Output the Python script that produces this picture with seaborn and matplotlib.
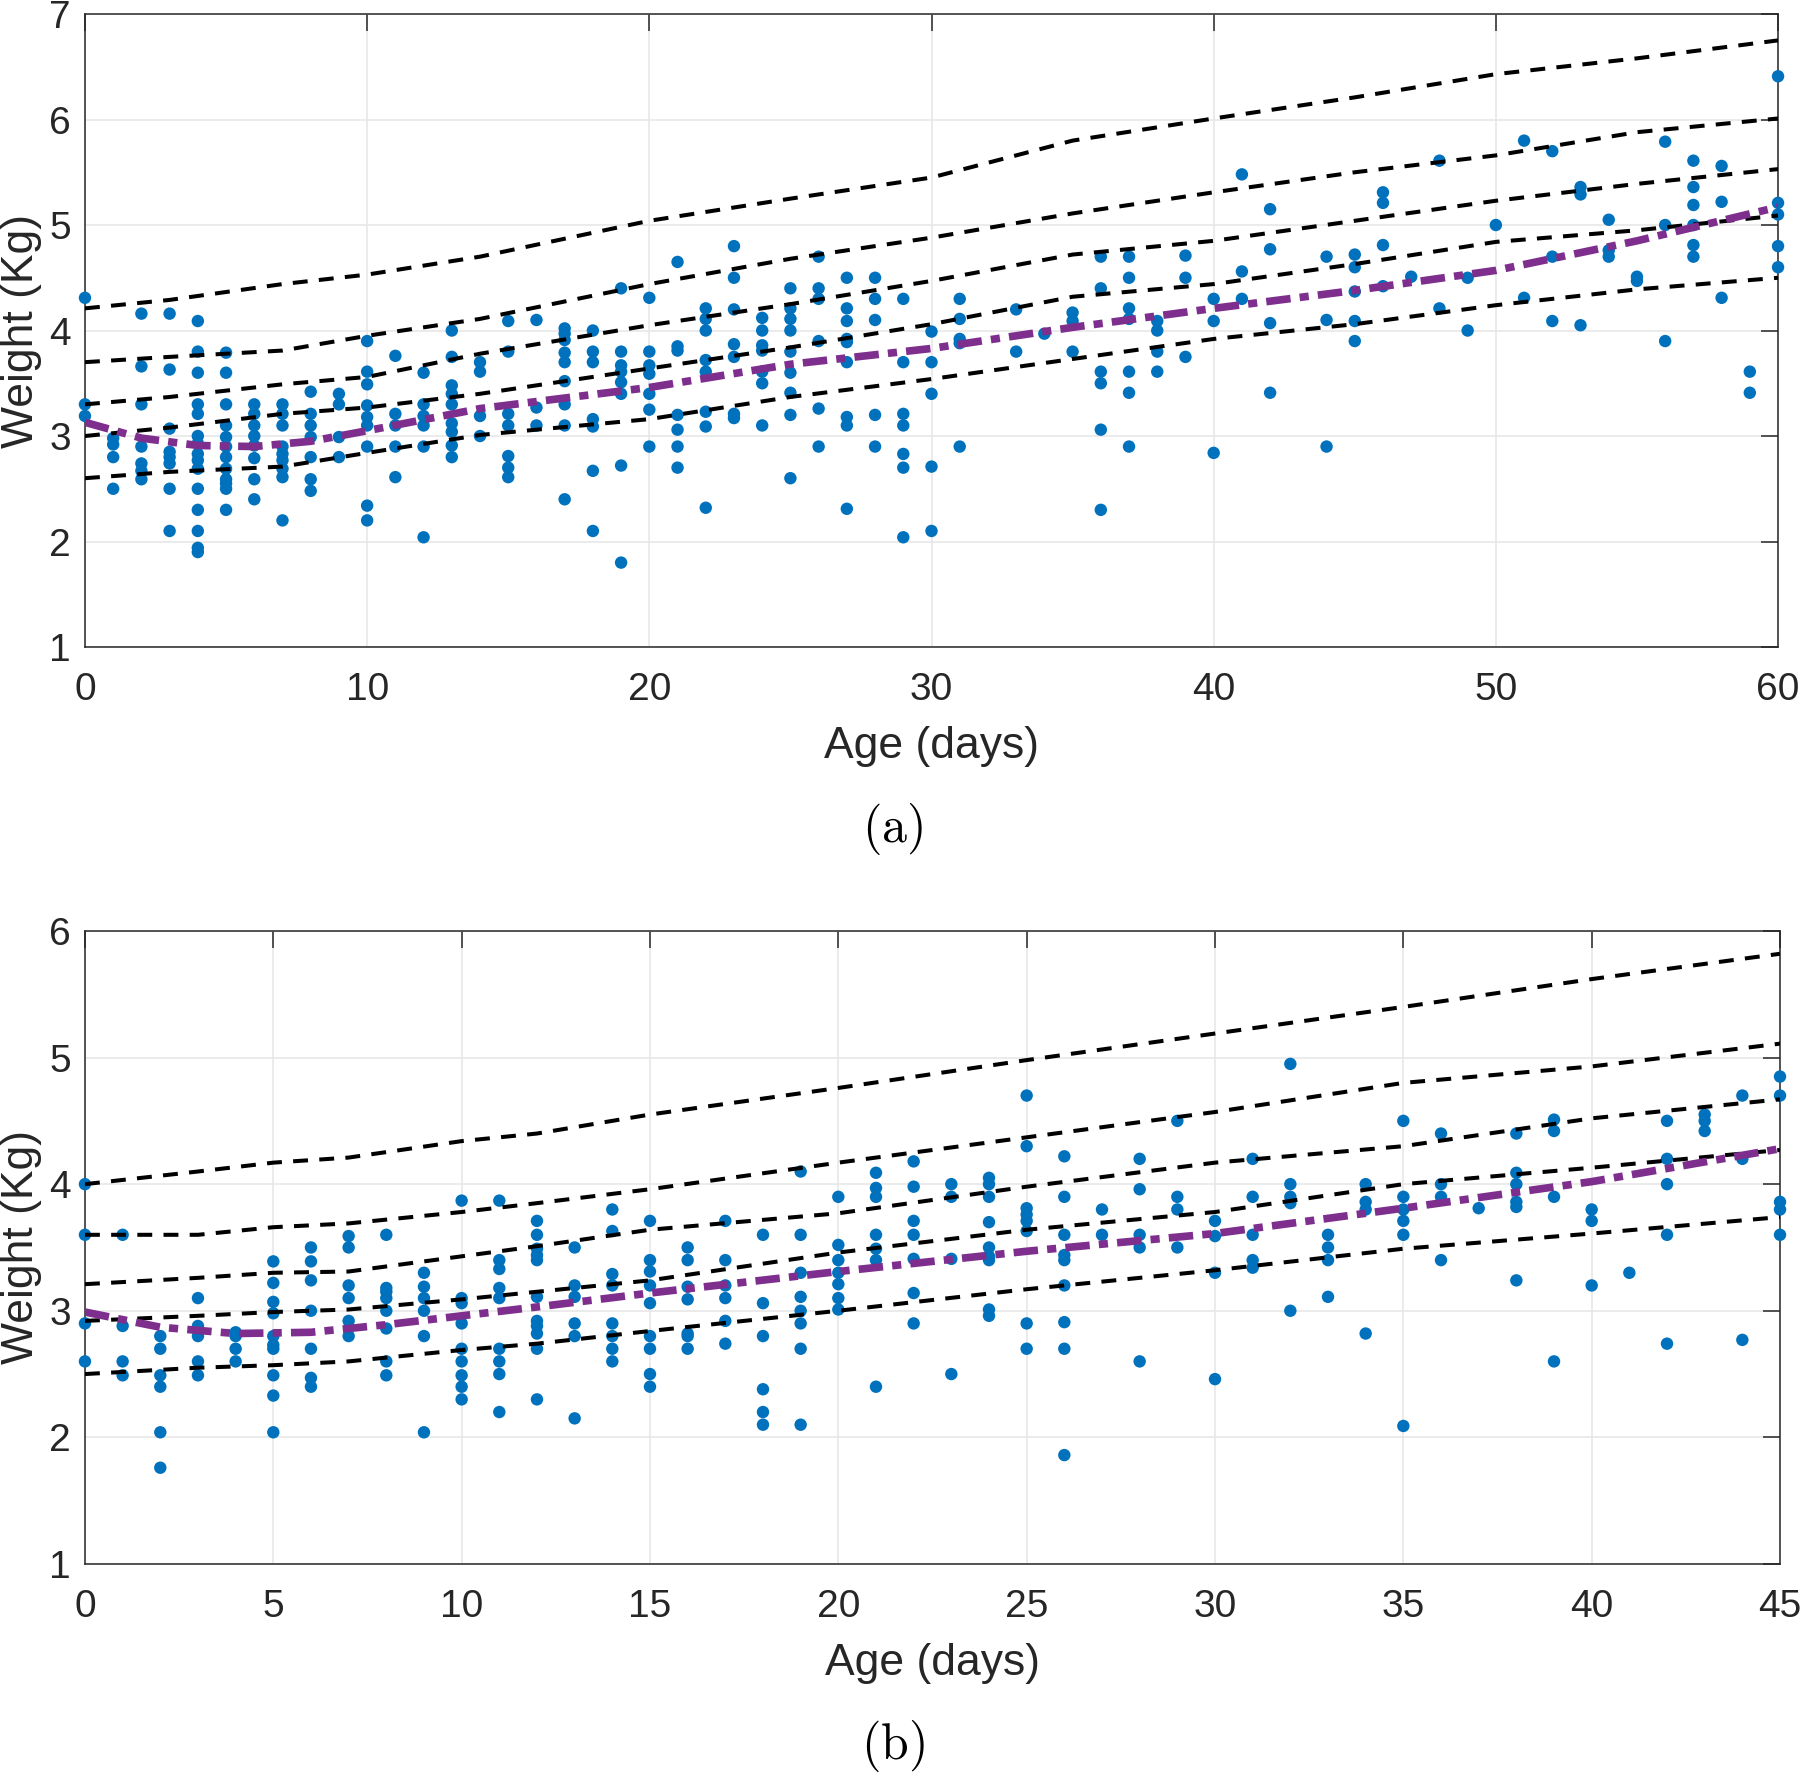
import numpy as np
import pandas as pd
import matplotlib
matplotlib.use('Agg')
import matplotlib.pyplot as plt
import seaborn as sns

# ---------------- panel (a) data: observed weights per age (days) ----------------
a_days = [0, 1, 2, 3, 4, 5, 6, 7, 8, 9, 10, 11, 12, 13, 14, 15, 16, 17, 18, 19, 20,
          21, 22, 23, 24, 25, 26, 27, 28, 29, 30, 31, 33, 34, 35, 36, 37, 38, 39, 40,
          41, 42, 44, 45, 46, 47, 48, 49, 50, 51, 52, 53, 54, 55, 56, 57, 58, 59, 60]
a_weights = [
    [4.31, 3.30, 3.19],
    [2.98, 2.92, 2.80, 2.50],
    [4.16, 3.66, 3.30, 2.90, 2.74, 2.67, 2.59],
    [4.16, 3.63, 3.07, 2.85, 2.80, 2.74, 2.50, 2.10],
    [4.09, 3.80, 3.60, 3.30, 3.21, 3.00, 2.93, 2.83, 2.77, 2.69, 2.50, 2.30, 2.10, 1.94, 1.90],
    [3.79, 3.60, 3.30, 3.10, 2.99, 2.90, 2.80, 2.69, 2.59, 2.55, 2.50, 2.30],
    [3.30, 3.21, 3.10, 3.00, 2.91, 2.79, 2.59, 2.40],
    [3.30, 3.21, 3.10, 2.90, 2.83, 2.77, 2.69, 2.61, 2.20],
    [3.42, 3.21, 3.10, 2.99, 2.80, 2.59, 2.48],
    [3.40, 3.30, 2.99, 2.80],
    [3.90, 3.61, 3.49, 3.29, 3.18, 3.10, 2.90, 2.34, 2.20],
    [3.76, 3.21, 3.10, 2.90, 2.61],
    [3.60, 3.30, 3.19, 3.10, 2.90, 2.04],
    [4.00, 3.75, 3.48, 3.40, 3.30, 3.12, 3.04, 2.91, 2.80],
    [3.70, 3.61, 3.19, 3.00],
    [4.09, 3.80, 3.21, 3.10, 2.81, 2.70, 2.61],
    [4.10, 3.27, 3.10],
    [4.02, 3.97, 3.91, 3.79, 3.70, 3.52, 3.30, 3.10, 2.40],
    [4.00, 3.80, 3.70, 3.16, 3.09, 2.67, 2.10],
    [4.40, 3.80, 3.67, 3.61, 3.51, 3.40, 2.72, 1.80],
    [4.31, 3.80, 3.67, 3.59, 3.40, 3.25, 2.90],
    [4.65, 3.85, 3.81, 3.20, 3.06, 2.90, 2.70],
    [4.21, 4.11, 4.00, 3.72, 3.61, 3.23, 3.09, 2.32],
    [4.80, 4.50, 4.20, 3.87, 3.75, 3.21, 3.17],
    [4.12, 4.00, 3.86, 3.81, 3.61, 3.50, 3.10],
    [4.40, 4.21, 4.11, 4.00, 3.80, 3.60, 3.41, 3.20, 2.60],
    [4.70, 4.40, 4.30, 3.90, 3.26, 2.90],
    [4.50, 4.21, 4.09, 3.92, 3.89, 3.70, 3.18, 3.10, 2.31],
    [4.50, 4.30, 4.10, 3.20, 2.90],
    [4.30, 3.70, 3.21, 3.10, 2.83, 2.70, 2.04],
    [3.99, 3.70, 3.40, 2.71, 2.10],
    [4.30, 4.11, 3.92, 3.88, 2.90],
    [4.20, 3.80],
    [3.97],
    [4.17, 4.09, 3.80],
    [4.70, 4.40, 3.61, 3.50, 3.06, 2.30],
    [4.70, 4.50, 4.21, 4.11, 3.61, 3.41, 2.90],
    [4.09, 4.00, 3.80, 3.61],
    [4.71, 4.50, 3.75],
    [4.30, 4.09, 2.84],
    [5.48, 4.56, 4.30],
    [5.15, 4.77, 4.07, 3.41],
    [4.70, 4.10, 2.90],
    [4.72, 4.60, 4.37, 4.09, 3.90],
    [5.31, 5.21, 4.81, 4.42],
    [4.51],
    [5.61, 4.21],
    [4.50, 4.00],
    [5.00],
    [5.80, 4.31],
    [5.70, 4.70, 4.09],
    [5.36, 5.29, 4.05],
    [5.05, 4.76, 4.70],
    [4.51, 4.47],
    [5.79, 5.00, 3.90],
    [5.61, 5.36, 5.19, 5.00, 4.81, 4.70],
    [5.56, 5.22, 4.31],
    [3.61, 3.41],
    [6.41, 5.21, 5.10, 4.80, 4.60],
]

# reference centile curves (a), top to bottom
a_ref_days = [0, 3, 7, 10, 14, 20, 25, 30, 35, 40, 45, 50, 55, 60]
a_ref_1 = [4.21, 4.29, 4.44, 4.53, 4.70, 5.04, 5.25, 5.45, 5.80, 6.01, 6.21, 6.43, 6.58, 6.75]
a_ref_2 = [3.70, 3.75, 3.81, 3.95, 4.11, 4.44, 4.68, 4.88, 5.11, 5.31, 5.50, 5.66, 5.88, 6.01]
a_ref_3 = [3.30, 3.37, 3.49, 3.56, 3.78, 4.05, 4.25, 4.47, 4.72, 4.85, 5.04, 5.23, 5.39, 5.53]
a_ref_4 = [3.00, 3.08, 3.21, 3.27, 3.40, 3.64, 3.84, 4.06, 4.32, 4.44, 4.63, 4.84, 4.95, 5.09]
a_ref_5 = [2.60, 2.66, 2.71, 2.84, 3.01, 3.16, 3.37, 3.54, 3.73, 3.92, 4.06, 4.24, 4.39, 4.50]

# fitted curve (a)
a_fit_days = [0, 2, 4, 6, 8, 10, 14, 20, 25, 30, 35, 40, 45, 50, 55, 60]
a_fit = [3.13, 2.98, 2.91, 2.90, 2.95, 3.05, 3.26, 3.46, 3.68, 3.83, 4.03, 4.21, 4.38, 4.57, 4.85, 5.17]

# ---------------- panel (b) data ----------------
b_days = list(range(0, 46))
b_weights = [
    [4.00, 3.60, 2.90, 2.60],
    [3.60, 2.88, 2.60, 2.49],
    [2.80, 2.70, 2.49, 2.40, 2.04, 1.76],
    [3.10, 2.88, 2.80, 2.60, 2.49],
    [2.83, 2.80, 2.70, 2.60],
    [3.39, 3.22, 3.07, 2.98, 2.80, 2.73, 2.70, 2.49, 2.33, 2.04],
    [3.50, 3.39, 3.24, 3.00, 2.70, 2.47, 2.40],
    [3.59, 3.50, 3.20, 3.10, 2.92, 2.80],
    [3.60, 3.18, 3.15, 3.10, 3.00, 2.86, 2.60, 2.49],
    [3.30, 3.19, 3.10, 3.00, 2.80, 2.04],
    [3.87, 3.10, 3.06, 2.90, 2.70, 2.60, 2.49, 2.40, 2.30],
    [3.87, 3.40, 3.33, 3.18, 3.10, 2.70, 2.60, 2.50, 2.20],
    [3.71, 3.60, 3.49, 3.44, 3.40, 3.11, 2.92, 2.88, 2.82, 2.70, 2.30],
    [3.50, 3.20, 3.11, 2.90, 2.80, 2.15],
    [3.80, 3.63, 3.29, 3.20, 2.90, 2.80, 2.70, 2.60],
    [3.71, 3.40, 3.31, 3.20, 3.06, 2.80, 2.70, 2.50, 2.40],
    [3.50, 3.40, 3.19, 3.09, 2.82, 2.80, 2.70],
    [3.71, 3.40, 3.20, 3.10, 2.92, 2.74],
    [3.60, 3.06, 2.80, 2.38, 2.20, 2.10],
    [4.10, 3.60, 3.30, 3.11, 3.00, 2.90, 2.70, 2.10],
    [3.90, 3.52, 3.40, 3.30, 3.21, 3.10, 3.01],
    [4.09, 3.97, 3.90, 3.60, 3.49, 3.40, 2.40],
    [4.18, 3.98, 3.71, 3.60, 3.41, 3.14, 2.90],
    [4.00, 3.90, 3.41, 2.50],
    [4.05, 4.00, 3.90, 3.70, 3.50, 3.43, 3.40, 3.01, 2.96],
    [4.70, 4.30, 3.81, 3.76, 3.71, 3.63, 2.90, 2.70],
    [4.22, 3.90, 3.60, 3.44, 3.40, 3.20, 2.91, 2.70, 1.86],
    [3.80, 3.60],
    [4.20, 3.96, 3.60, 3.50, 2.60],
    [4.50, 3.90, 3.80, 3.50],
    [3.71, 3.59, 3.30, 2.46],
    [4.20, 3.90, 3.60, 3.40, 3.34],
    [4.95, 4.00, 3.90, 3.85, 3.00],
    [3.60, 3.50, 3.40, 3.11],
    [4.00, 3.86, 3.80, 2.82],
    [4.50, 3.90, 3.80, 3.71, 3.60, 2.09],
    [4.40, 4.00, 3.90, 3.40],
    [3.81],
    [4.40, 4.09, 4.00, 3.86, 3.82, 3.24],
    [4.51, 4.42, 3.90, 2.60],
    [3.80, 3.71, 3.20],
    [3.30],
    [4.50, 4.20, 4.00, 3.60, 2.74],
    [4.55, 4.50, 4.42],
    [4.70, 4.20, 2.77],
    [4.85, 4.70, 3.86, 3.80, 3.60],
]

b_ref_days = [0, 3, 5, 7, 10, 12, 15, 20, 25, 30, 35, 40, 45]
b_ref_1 = [4.00, 4.10, 4.17, 4.21, 4.34, 4.40, 4.55, 4.76, 4.98, 5.19, 5.40, 5.62, 5.82]
b_ref_2 = [3.60, 3.60, 3.66, 3.69, 3.78, 3.85, 3.96, 4.17, 4.37, 4.57, 4.80, 4.93, 5.11]
b_ref_3 = [3.21, 3.26, 3.30, 3.31, 3.43, 3.51, 3.64, 3.77, 3.98, 4.17, 4.30, 4.52, 4.67]
b_ref_4 = [2.92, 2.96, 2.99, 3.01, 3.09, 3.15, 3.24, 3.46, 3.64, 3.78, 4.00, 4.13, 4.27]
b_ref_5 = [2.50, 2.55, 2.57, 2.60, 2.69, 2.74, 2.84, 3.00, 3.17, 3.32, 3.49, 3.61, 3.74]

b_fit_days = [0, 2, 4, 6, 8, 10, 12, 15, 20, 25, 30, 35, 40, 45]
b_fit = [2.99, 2.87, 2.82, 2.83, 2.89, 2.96, 3.03, 3.14, 3.31, 3.47, 3.61, 3.81, 4.02, 4.28]

# ---------------- style ----------------
sns.set_theme(style='white')
plt.rcParams['font.family'] = ['Liberation Sans', 'DejaVu Sans']
plt.rcParams['mathtext.fontset'] = 'cm'

DOT = '#0072BD'
FIT = '#7E2F8E'
AXC = '#262626'


def to_frame(days, weights):
    rows = [(d, w) for d, ws in zip(days, weights) for w in ws]
    return pd.DataFrame(rows, columns=['age', 'weight'])


def draw_panel(ax, df, ref_days, refs, fit_days, fit, xmax, xstep, ymax):
    # observed points
    sns.scatterplot(data=df, x='age', y='weight', ax=ax, color=DOT, s=80,
                    edgecolor='none', linewidth=0, clip_on=False, zorder=3)

    # reference curves
    for r in refs:
        sns.lineplot(x=ref_days, y=r, ax=ax, color='black', linewidth=2.9, zorder=4)
        ax.lines[-1].set_dashes((3.7, 2.8))

    # fitted curve
    sns.lineplot(x=fit_days, y=fit, ax=ax, color=FIT, linewidth=5.5, zorder=5)
    ax.lines[-1].set_dashes((3.2, 1.2, 1.2, 1.2))

    ax.set_xlim(0, xmax)
    ax.set_ylim(1, ymax)
    ax.set_xticks(np.arange(0, xmax + 1, xstep))
    ax.set_yticks(np.arange(1, ymax + 1, 1))
    ax.grid(True, color='#e6e6e6', linewidth=1.1)
    ax.set_axisbelow(True)
    for sp in ax.spines.values():
        sp.set_visible(True)
        sp.set_color(AXC)
        sp.set_linewidth(1.1)
    ax.tick_params(direction='in', length=12.5, width=1.1, color=AXC,
                   top=True, right=True, labelsize=28, labelcolor=AXC)
    ax.tick_params(axis='x', pad=18)
    ax.tick_params(axis='y', pad=10)
    ax.set_xlabel('Age (days)', fontsize=32, color=AXC, labelpad=13)
    ax.set_ylabel('Weight (Kg)', fontsize=32, color=AXC, labelpad=5)


fig = plt.figure(figsize=(18, 17.76), dpi=100)
ax_a = fig.add_axes([0.0472, 0.6357, 0.9406, 0.3564])
ax_b = fig.add_axes([0.0472, 0.1194, 0.9417, 0.3564])

draw_panel(ax_a, to_frame(a_days, a_weights), a_ref_days,
           [a_ref_1, a_ref_2, a_ref_3, a_ref_4, a_ref_5], a_fit_days, a_fit, 60, 10, 7)
draw_panel(ax_b, to_frame(b_days, b_weights), b_ref_days,
           [b_ref_1, b_ref_2, b_ref_3, b_ref_4, b_ref_5], b_fit_days, b_fit, 45, 5, 6)

fig.text(0.496, 1 - 829 / 1776, r'$\mathrm{(a)}$', fontsize=36, ha='center', va='center', color='black')
fig.text(0.496, 1 - 1746 / 1776, r'$\mathrm{(b)}$', fontsize=36, ha='center', va='center', color='black')

fig.savefig('out.png', dpi=100)
